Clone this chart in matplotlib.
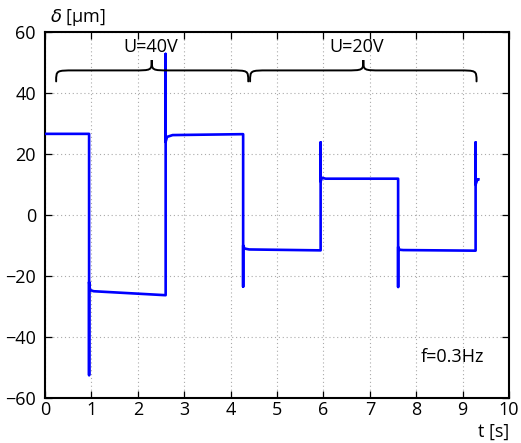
import numpy as np
import matplotlib
matplotlib.use("Agg")
import matplotlib.pyplot as plt
from matplotlib.path import Path
from matplotlib.patches import PathPatch

plt.rcParams.update({
    "font.family": ["Open Sans", "DejaVu Sans"],
    "font.size": 13,
    "axes.unicode_minus": True,
})

t_s = [0.0, 0.95, 0.95, 0.95, 0.97, 1.05, 2.60, 2.60, 2.60, 2.63, 2.75,
       4.27, 4.27, 4.27, 4.30, 4.40, 5.94, 5.94, 5.94, 5.97, 6.05,
       7.61, 7.61, 7.61, 7.64, 7.72, 9.28, 9.28, 9.28, 9.32, 9.34]
delta_um = [26.6, 26.6, -52.5, -22.0, -24.6, -25.0, -26.3, 52.8, 24.0, 25.6, 26.2,
            26.5, -23.5, -10.0, -11.0, -11.3, -11.6, 23.8, 11.0, 12.2, 11.9,
            11.9, -23.6, -10.5, -11.4, -11.5, -11.7, 23.8, 10.0, 11.7, 11.7]

# voltage braces: (start, middle, end) in seconds, label
brace_spans = [(0.24, 2.30, 4.38), (4.42, 6.86, 9.30)]
brace_labels = ["U=40V", "U=20V"]
label_x = [2.27, 6.72]


def brace(ax, x0, xm, x1, y0=43.8, yh=47.4, ytip=50.8, dx=0.4):
    verts = [(x0, y0),
             (x0, yh), (x0, yh), (x0 + dx, yh),
             (xm - dx, yh),
             (xm, yh), (xm, yh), (xm, ytip),
             (xm, yh), (xm, yh), (xm + dx, yh),
             (x1 - dx, yh),
             (x1, yh), (x1, yh), (x1, y0)]
    codes = [Path.MOVETO,
             Path.CURVE4, Path.CURVE4, Path.CURVE4,
             Path.LINETO,
             Path.CURVE4, Path.CURVE4, Path.CURVE4,
             Path.CURVE4, Path.CURVE4, Path.CURVE4,
             Path.LINETO,
             Path.CURVE4, Path.CURVE4, Path.CURVE4]
    ax.add_patch(PathPatch(Path(verts, codes), fill=False, lw=1.4,
                           edgecolor="black", capstyle="round", zorder=4))


fig = plt.figure(figsize=(5.21, 4.43), dpi=100)
ax = fig.add_axes([0.0864, 0.1016, 0.8906, 0.8262])

ax.plot(t_s, delta_um, color="#0000FF", lw=1.9, zorder=3)

for (x0, xm, x1), lab, lx in zip(brace_spans, brace_labels, label_x):
    brace(ax, x0, xm, x1)
    ax.text(lx, 55.2, lab, ha="center", va="center", fontsize=13, zorder=5)

ax.text(8.1, -46.7, "f=0.3Hz", ha="left", va="center", fontsize=13)

ax.set_xlim(0, 10)
ax.set_ylim(-60, 60)
ax.set_xticks(np.arange(0, 11, 1))
ax.set_yticks(np.arange(-60, 61, 20))
ax.tick_params(direction="in", top=True, right=True, length=5, width=0.9,
               labelsize=13)
ax.tick_params(axis="x", pad=2)
ax.tick_params(axis="y", pad=6.5)
ax.grid(True, linestyle=(0, (1, 2.5)), color="#aaaaaa", linewidth=0.8)
ax.set_axisbelow(True)
for sp in ax.spines.values():
    sp.set_linewidth(1.5)

fig.text(50 / 521, 1 - 18 / 443, r"$\delta$ [µm]", ha="left", va="center",
         fontsize=13)
fig.text(509 / 521, 1 - 432 / 443, "t [s]", ha="right", va="center",
         fontsize=13)

fig.savefig("out.png", dpi=100)
